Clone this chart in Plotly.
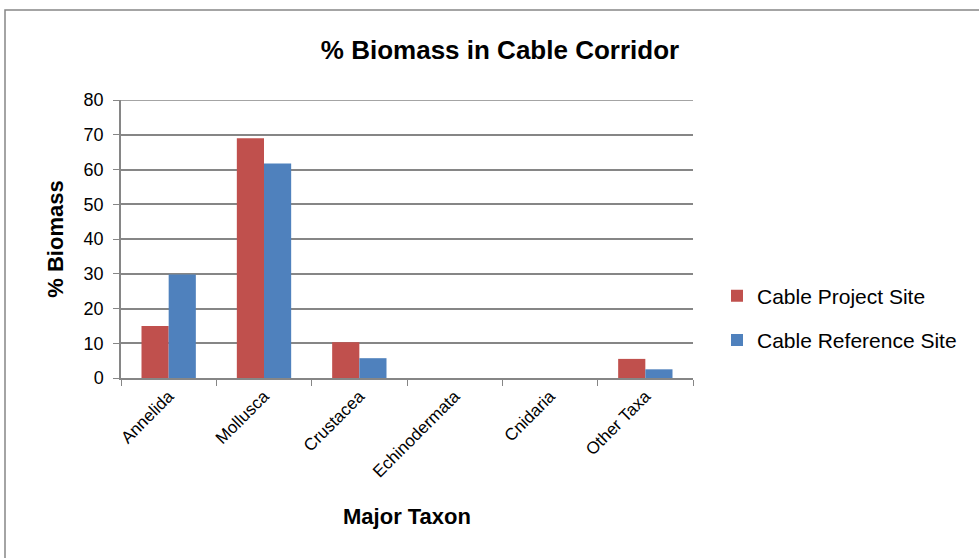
import plotly.graph_objects as go

categories = ["Annelida", "Mollusca", "Crustacea", "Echinodermata", "Cnidaria", "Other Taxa"]
project_site = [15.0, 69.0, 10.3, 0, 0, 5.5]
reference_site = [29.8, 61.7, 5.7, 0, 0, 2.5]
series_names = ["Cable Project Site", "Cable Reference Site"]
colors = ["#C0504D", "#4F81BD"]

W, H = 979, 558
L, T = 121, 100
pw, ph = 572, 278
R = W - L - pw
B = H - T - ph

fig = go.Figure()
for name, vals, col, g in zip(series_names, [project_site, reference_site], colors, ["a", "b"]):
    fig.add_trace(go.Bar(x=categories, y=vals, name=name, marker_color=col,
                         marker_line_width=0, legendgroup=g))

font = "Liberation Sans, Arial, sans-serif"
grid = "#868686"
fig.update_layout(
    width=W, height=H,
    margin=dict(l=L, r=R, t=T, b=B, autoexpand=False),
    paper_bgcolor="white", plot_bgcolor="white",
    font=dict(family=font, color="black"),
    title=dict(text="<b>% Biomass in Cable Corridor</b>", x=500 / W, xanchor="center",
               y=1 - 50 / H, yanchor="middle", font=dict(size=26, family=font)),
    barmode="group", bargap=0.43, bargroupgap=0,
    showlegend=True,
    legend=dict(x=(717 - L) / pw, y=(378 - 318) / ph, xanchor="left", yanchor="middle",
                font=dict(size=21, family=font), traceorder="grouped", tracegroupgap=14,
                bgcolor="rgba(0,0,0,0)"),
    xaxis=dict(showline=True, linecolor=grid, linewidth=1.5, tickson="boundaries",
               ticks="outside", ticklen=6, tickcolor=grid, tickangle=-45,
               tickfont=dict(size=17, family=font),
               title=dict(text="<b>Major Taxon</b>", font=dict(size=22, family=font), standoff=28)),
    yaxis=dict(range=[0, 80], dtick=10, showgrid=True, gridcolor=grid, gridwidth=1.5,
               showline=True, linecolor=grid, linewidth=1.5, ticks="outside", ticklen=6,
               tickcolor=grid, tickfont=dict(size=18, family=font), zeroline=False,
               ticklabelstandoff=6,
               title=dict(text="<b>% Biomass</b>", font=dict(size=22, family=font), standoff=14)),
)

fig.add_shape(type="line", xref="paper", yref="y", x0=0, x1=1, y0=80, y1=80,
              line=dict(color=grid, width=1.5))
fig.add_shape(type="rect", xref="paper", yref="paper",
              x0=(5 - L) / pw, x1=(990 - L) / pw, y0=(378 - 600) / ph, y1=(378 - 10) / ph,
              line=dict(color=grid, width=1.5), fillcolor="rgba(0,0,0,0)", layer="below")

fig.write_html("out.html", config={"displayModeBar": False},
               post_script="document.body.style.margin='0';")
